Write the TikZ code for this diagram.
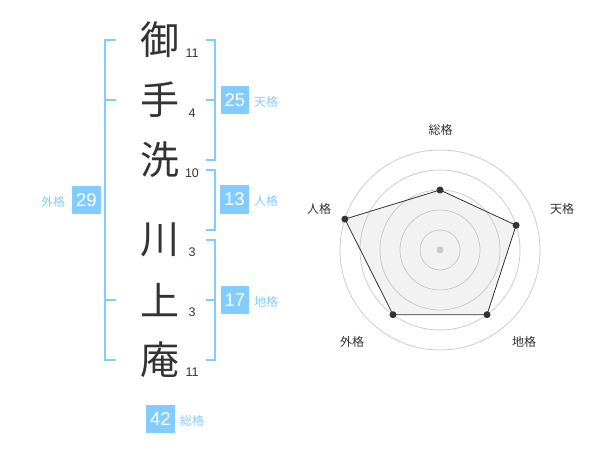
\documentclass[tikz,border=0pt]{standalone}
\usepackage{fontspec}
\setmainfont{Liberation Sans}
\newfontfamily\cjk{Noto Sans CJK JP}
\definecolor{skyb}{RGB}{130,204,255}
\definecolor{ink}{RGB}{51,51,51}
\definecolor{ringc}{RGB}{204,204,204}
\tikzset{
  kanji/.style={font=\cjk\fontsize{39}{39}\selectfont, text=ink, inner sep=0pt},
  strokes/.style={font=\fontsize{12.5}{12.5}\selectfont, text=ink, inner sep=0pt},
  valbox/.style={fill=skyb, text=white, minimum width=28.5pt, minimum height=28.5pt, inner sep=0pt, font=\fontsize{18.5}{18.5}\selectfont},
  kaku/.style={font=\cjk\fontsize{12}{12}\selectfont, text=skyb, inner sep=0pt},
  brk/.style={draw=skyb, line width=2pt},
  ring/.style={draw=ringc, line width=0.8pt},
  rlabel/.style={font=\cjk\fontsize{12}{12}\selectfont, text=ink, inner sep=0pt},
  dot/.style={circle, fill=ink, inner sep=0pt, minimum size=7pt},
}
\begin{document}
\begin{tikzpicture}[x=1pt,y=-1pt]
\useasboundingbox (0,0) rectangle (600,470);
% kanji
\node[kanji] (k1) at (160,40) {御};
\node[kanji] (k2) at (160,100) {手};
\node[kanji] (k3) at (160,160) {洗};
\node[kanji] (k4) at (160,240) {川};
\node[kanji] (k5) at (160,300) {上};
\node[kanji] (k6) at (160,360) {庵};
% stroke counts
\node[strokes] (s1) at (192,53) {11};
\node[strokes] (s2) at (192,113) {4};
\node[strokes] (s3) at (192,173) {10};
\node[strokes] (s4) at (192,252.5) {3};
\node[strokes] (s5) at (192,312.5) {3};
\node[strokes] (s6) at (192,372.5) {11};
% left bracket (gaikaku)
\draw[brk] (116,40) -- (105,40) -- (105,360) -- (116,360);
\draw[brk] (105,100) -- (116,100);
\draw[brk] (105,300) -- (116,300);
% right brackets
\draw[brk] (206,40) -- (215,40) -- (215,160) -- (206,160);
\draw[brk] (206,100) -- (215,100);
\draw[brk] (206,170) -- (215,170) -- (215,230) -- (206,230);
\draw[brk] (206,240) -- (215,240) -- (215,360) -- (206,360);
\draw[brk] (206,300) -- (215,300);
% value boxes
\node[valbox] (b25) at (235,100) {25};
\node[kaku] (l25) at (266,102) {天格};
\node[valbox] (b13) at (234.5,199.5) {13};
\node[kaku] (l13) at (266,201) {人格};
\node[valbox] (b17) at (235,300) {17};
\node[kaku] (l17) at (266,302) {地格};
\node[valbox] (b29) at (86.5,200) {29};
\node[kaku] (l29) at (53,202) {外格};
\node[valbox] (b42) at (160.5,419) {42};
\node[kaku] (l42) at (192,421) {総格};
% radar
\coordinate (c) at (440,250);
\foreach \r in {20,40,60,80,100} \draw[ring] (c) circle[radius=\r];
\fill[ringc] (c) circle[radius=3.5];
\coordinate (pS) at (440,190);
\coordinate (pT) at (516.1,225.3);
\coordinate (pC) at (487.0,314.7);
\coordinate (pG) at (393.0,314.7);
\coordinate (pJ) at (344.9,219.1);
\filldraw[fill=black!25, fill opacity=0.2, draw=ink, line width=0.8pt] (pS) -- (pT) -- (pC) -- (pG) -- (pJ) -- cycle;
\foreach \p in {pS,pT,pC,pG,pJ} \node[dot] at (\p) {};
\node[rlabel] (rS) at (440.5,130) {総格};
\node[rlabel] (rT) at (562,208.5) {天格};
\node[rlabel] (rJ) at (319,209) {人格};
\node[rlabel] (rC) at (524,341.5) {地格};
\node[rlabel] (rG) at (352,341.5) {外格};
\end{tikzpicture}
\end{document}
